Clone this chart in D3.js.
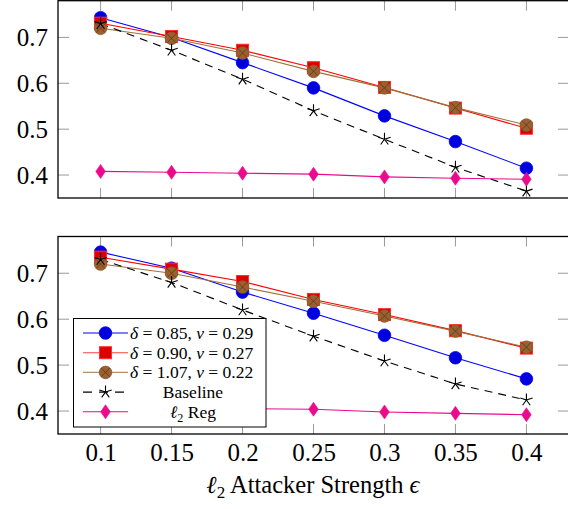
<!DOCTYPE html>
<html>
<head>
<meta charset="utf-8">
<script src="https://cdn.jsdelivr.net/npm/d3@7"></script>
<style>
  body { margin: 0; background: #fff; }
  svg text { font-family: "Liberation Serif", "DejaVu Serif", "Times New Roman", serif !important; fill: #000; }
</style>
</head>
<body>
<div id="chart"></div>
<script>
// data
var epsilons = [0.1, 0.15, 0.2, 0.25, 0.3, 0.35, 0.4];
var xTickLabels = ["0.1", "0.15", "0.2", "0.25", "0.3", "0.35", "0.4"];
var yTicks = [0.4, 0.5, 0.6, 0.7];

// top panel
var topBlue     = [0.743, 0.700, 0.645, 0.590, 0.529, 0.473, 0.415];
var topRed      = [0.731, 0.702, 0.672, 0.634, 0.591, 0.546, 0.502];
var topBrown    = [0.720, 0.698, 0.666, 0.626, 0.590, 0.547, 0.509];
var topBaseline = [0.730, 0.672, 0.609, 0.540, 0.478, 0.417, 0.365];
var topL2       = [0.408, 0.406, 0.404, 0.402, 0.396, 0.393, 0.391];

// bottom panel
var botBlue     = [0.746, 0.711, 0.659, 0.613, 0.565, 0.516, 0.470];
var botRed      = [0.735, 0.709, 0.682, 0.643, 0.610, 0.575, 0.537];
var botBrown    = [0.720, 0.700, 0.670, 0.639, 0.607, 0.574, 0.539];
var botBaseline = [0.730, 0.680, 0.620, 0.563, 0.509, 0.459, 0.424];
var botL2       = [0.408, 0.407, 0.405, 0.404, 0.398, 0.395, 0.392];

var svgWidth = 568;
var svgHeight = 509;
var serif = "'Liberation Serif', 'DejaVu Serif', serif";

var svg = d3.select("#chart")
  .append("svg")
  .attr("width", svgWidth)
  .attr("height", svgHeight);

var xScale = d3.scaleLinear()
  .domain([0.07, 0.43])
  .range([58, 569]);

var series = [
  {key: "blue",  color: "#0000ff", dash: null,  marker: "circle",  fill: "#0000dd", stroke: "#0000ff"},
  {key: "red",   color: "#ff0000", dash: null,  marker: "square",  fill: "#dd0000", stroke: "#ff3030"},
  {key: "brown", color: "#a0703a", dash: null,  marker: "otimes",  fill: "#9a6030", stroke: "#8a5a2a"},
  {key: "base",  color: "#000000", dash: "8,6", marker: "star",    fill: "none",    stroke: "#000"},
  {key: "l2",    color: "#ec0a8c", dash: null,  marker: "diamond", fill: "#ec0a8c", stroke: "#ec0a8c"}
];

function drawMarker(g, s, cx, cy) {
  if (s.marker === "circle") {
    g.append("circle").attr("cx", cx).attr("cy", cy).attr("r", 6.3)
      .attr("fill", s.fill).attr("stroke", s.stroke).attr("stroke-width", 0.8);
  } else if (s.marker === "square") {
    g.append("rect").attr("x", cx - 6).attr("y", cy - 6).attr("width", 12).attr("height", 12)
      .attr("fill", s.fill).attr("stroke", s.stroke).attr("stroke-width", 1);
  } else if (s.marker === "otimes") {
    var r = 6.3, d = r * 0.7071;
    g.append("circle").attr("cx", cx).attr("cy", cy).attr("r", r)
      .attr("fill", s.fill).attr("stroke", s.stroke).attr("stroke-width", 0.8);
    g.append("path")
      .attr("d", `M${cx - d},${cy - d}L${cx + d},${cy + d}M${cx - d},${cy + d}L${cx + d},${cy - d}`)
      .attr("stroke", "#5a3818").attr("stroke-width", 0.8);
  } else if (s.marker === "star") {
    var p = "", rr = 6.5;
    for (var i = 0; i < 5; i++) {
      var a = -Math.PI / 2 + i * 2 * Math.PI / 5;
      p += `M${cx},${cy}L${cx + rr * Math.cos(a)},${cy + rr * Math.sin(a)}`;
    }
    g.append("path").attr("d", p).attr("stroke", "#000").attr("stroke-width", 1.1).attr("fill", "none");
  } else if (s.marker === "diamond") {
    g.append("path")
      .attr("d", `M${cx},${cy - 7}L${cx + 4.8},${cy}L${cx},${cy + 7}L${cx - 4.8},${cy}Z`)
      .attr("fill", s.fill).attr("stroke", s.stroke).attr("stroke-width", 0.6);
  }
}

function drawPanel(top, bottom, data, showXLabels) {
  var yScale = d3.scaleLinear()
    .domain([0.35, 0.78])
    .range([bottom, top]);

  var panel = svg.append("g");
  var x0 = xScale.range()[0], x1 = xScale.range()[1];

  // tick marks (inside, grey)
  var tickColor = "#999";
  epsilons.forEach(function(e) {
    var x = xScale(e);
    panel.append("line").attr("x1", x).attr("x2", x).attr("y1", bottom).attr("y2", bottom - 10)
      .attr("stroke", tickColor).attr("stroke-width", 1);
    panel.append("line").attr("x1", x).attr("x2", x).attr("y1", top).attr("y2", top + 10)
      .attr("stroke", tickColor).attr("stroke-width", 1);
  });
  yTicks.forEach(function(v) {
    var y = yScale(v);
    panel.append("line").attr("x1", x0).attr("x2", x0 + 11).attr("y1", y).attr("y2", y)
      .attr("stroke", tickColor).attr("stroke-width", 1);
    panel.append("line").attr("x1", x1).attr("x2", x1 - 11).attr("y1", y).attr("y2", y)
      .attr("stroke", tickColor).attr("stroke-width", 1);
  });

  // y tick labels via axis
  var leftAxis = d3.axisLeft(yScale).tickValues(yTicks).tickSize(0).tickPadding(10)
    .tickFormat(d3.format(".1f"));
  var ya = panel.append("g").attr("transform", `translate(${x0},0)`).call(leftAxis)
    .attr("font-family", serif).attr("font-size", 25);
  ya.select(".domain").remove();
  ya.selectAll("text").attr("fill", "#000");

  if (showXLabels) {
    var bottomAxis = d3.axisBottom(xScale).tickValues(epsilons).tickSize(0).tickPadding(9)
      .tickFormat(function(d, i) { return xTickLabels[i]; });
    var xa = panel.append("g").attr("transform", `translate(0,${bottom})`).call(bottomAxis)
      .attr("font-family", serif).attr("font-size", 25);
    xa.select(".domain").remove();
    xa.selectAll("text").attr("fill", "#000");
  }

  // lines + markers
  var plot = panel.append("g");

  var line = d3.line()
    .x(function(d, i) { return xScale(epsilons[i]); })
    .y(function(d) { return yScale(d); });

  series.forEach(function(s) {
    plot.append("path")
      .datum(data[s.key])
      .attr("d", line)
      .attr("fill", "none")
      .attr("stroke", s.color)
      .attr("stroke-width", 1.1)
      .attr("stroke-dasharray", s.dash);
  });
  series.forEach(function(s) {
    var mg = plot.append("g");
    data[s.key].forEach(function(v, i) {
      drawMarker(mg, s, xScale(epsilons[i]), yScale(v));
    });
  });

  // frame
  panel.append("rect")
    .attr("x", x0).attr("y", top).attr("width", x1 - x0).attr("height", bottom - top)
    .attr("fill", "none").attr("stroke", "#000").attr("stroke-width", 1.3);

  return panel;
}

drawPanel(0.7, 198, {blue: topBlue, red: topRed, brown: topBrown, base: topBaseline, l2: topL2}, false);
drawPanel(236.5, 434, {blue: botBlue, red: botRed, brown: botBrown, base: botBaseline, l2: botL2}, true);

// legend in bottom panel
var legendLabels = [
  [["δ", true], [" = 0.85, ", false], ["ν", true], [" = 0.29", false]],
  [["δ", true], [" = 0.90, ", false], ["ν", true], [" = 0.27", false]],
  [["δ", true], [" = 1.07, ", false], ["ν", true], [" = 0.22", false]],
  [["Baseline", false]],
  [["ℓ", true], ["2", false, "sub"], [" Reg", false, "up"]]
];

var legend = svg.append("g");
legend.append("rect")
  .attr("x", 73.5).attr("y", 318.5).attr("width", 192.5).attr("height", 108.5)
  .attr("fill", "#fff").attr("stroke", "#000").attr("stroke-width", 1);

var legendColors = ["#0000ff", "#ff4040", "#b09070", "#000", "#ec0a8c"];
series.forEach(function(s, i) {
  var y = 333 + i * 19.7;
  legend.append("line").attr("x1", 83).attr("x2", 128).attr("y1", y).attr("y2", y)
    .attr("stroke", legendColors[i]).attr("stroke-width", 1.1)
    .attr("stroke-dasharray", s.dash ? "9,7" : null);
  drawMarker(legend, s, 105.5, y);

  var centered = i >= 3;
  var t = legend.append("text")
    .attr("x", centered ? 193 : 130)
    .attr("y", y + 6)
    .attr("text-anchor", centered ? "middle" : "start")
    .attr("font-family", serif)
    .attr("font-size", 17.5);
  legendLabels[i].forEach(function(part) {
    var ts = t.append("tspan").text(part[0]);
    if (part[1]) ts.attr("font-style", "italic");
    if (part[2] === "sub") ts.attr("dy", 4).attr("font-size", 12);
    if (part[2] === "up") ts.attr("dy", -4);
  });
});

// x axis title
var title = svg.append("text")
  .attr("x", 313)
  .attr("y", 493)
  .attr("text-anchor", "middle")
  .attr("font-family", serif)
  .attr("font-size", 24.5);
title.append("tspan").text("ℓ").attr("font-style", "italic");
title.append("tspan").text("2").attr("dy", 5).attr("font-size", 17);
title.append("tspan").text(" Attacker Strength ").attr("dy", -5);
title.append("tspan").text("ϵ").attr("font-style", "italic");
</script>
</body>
</html>
